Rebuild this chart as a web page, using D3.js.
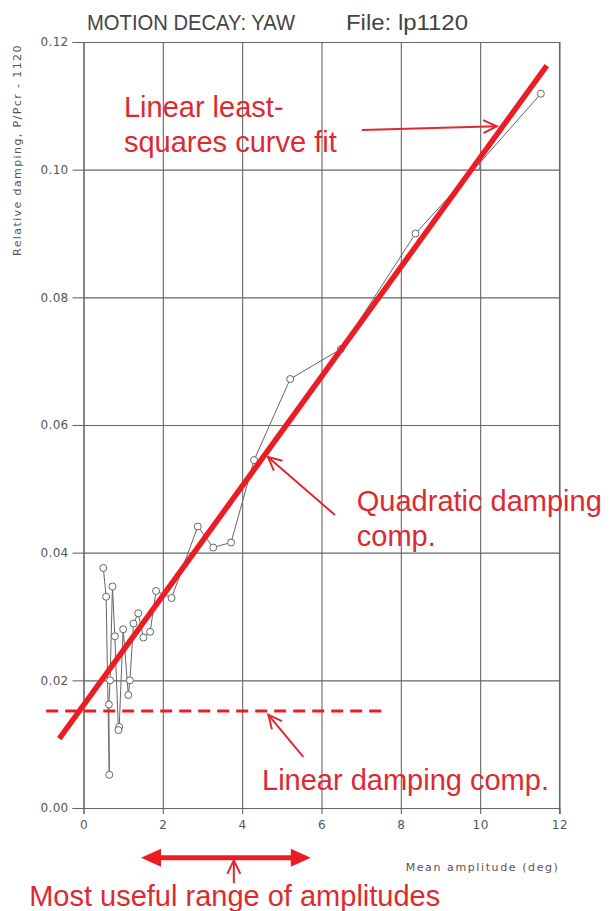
<!DOCTYPE html>
<html>
<head>
<meta charset="utf-8">
<script src="https://cdn.jsdelivr.net/npm/d3@7"></script>
<style>
  body { margin: 0; background: #fff; }
  svg { display: block; }
  .tick text { fill: #555; }
</style>
</head>
<body>
<svg id="chart"></svg>
<script>
// mean amplitude (deg) and relative damping for each swing, in decay order
const amplitude = [11.53, 9.91, 8.37, 6.49, 5.21, 4.30, 3.72, 3.27, 2.88, 2.22, 1.83, 1.68, 1.51, 1.38,
  1.26, 1.17, 1.13, 1.00, 0.90, 0.88, 0.79, 0.73, 0.67, 0.64, 0.65, 0.57, 0.50];
const damping = [0.1119, 0.1005, 0.0900, 0.0719, 0.0672, 0.0545, 0.0416, 0.0408, 0.0441, 0.0329, 0.0340,
  0.0276, 0.0267, 0.0305, 0.0289, 0.0200, 0.0177, 0.0280, 0.0127, 0.0122, 0.0269, 0.0347, 0.0200,
  0.0162, 0.0052, 0.0331, 0.0376];

const xTicks = [0, 2, 4, 6, 8, 10, 12];
const yTicks = [0, 0.02, 0.04, 0.06, 0.08, 0.10, 0.12];

// least squares fit  P/Pcr = a + b * amplitude
const fitIntercept = 0.0161;
const fitSlope = 0.00858;
const fitRange = [-0.61, 11.68];
// linear damping component
const linearComp = 0.0152;
const linearCompRange = [-0.94, 7.63];
// most useful amplitude range
const usefulRange = [1.45, 5.73];

const width = 610, height = 911;
const svg = d3.select('#chart').attr('width', width).attr('height', height);

const xScale = d3.scaleLinear().domain([0, 12]).range([83.5, 559.5]);
const yScale = d3.scaleLinear().domain([0, 0.12]).range([808, 42]);

const gray = '#666';
const red = '#ec1c24';
const textRed = '#dd2a30';

// grid
svg.append('g')
  .attr('transform', `translate(0,${yScale(0)})`)
  .call(d3.axisBottom(xScale).tickValues(xTicks).tickSize(-(yScale(0) - yScale(0.12))).tickFormat(''))
  .call(g => g.select('.domain').remove())
  .call(g => g.selectAll('line').attr('stroke', gray).attr('stroke-width', 1.1));

svg.append('g')
  .attr('transform', `translate(${xScale(0)},0)`)
  .call(d3.axisLeft(yScale).tickValues(yTicks).tickSize(-(xScale(12) - xScale(0))).tickFormat(''))
  .call(g => g.select('.domain').remove())
  .call(g => g.selectAll('line').attr('stroke', gray).attr('stroke-width', 1.1));

// axes with labels
svg.append('g')
  .attr('transform', `translate(0,${yScale(0)})`)
  .call(d3.axisBottom(xScale).tickValues(xTicks).tickSize(6).tickPadding(6).tickFormat(d3.format('d')))
  .call(g => g.select('.domain').attr('stroke', gray))
  .call(g => g.selectAll('line').attr('stroke', gray).attr('stroke-width', 1.1))
  .call(g => g.selectAll('text').attr('font-family', 'DejaVu Sans').attr('font-size', 12)
    .attr('letter-spacing', 0.5));

svg.append('g')
  .attr('transform', `translate(${xScale(0)},0)`)
  .call(d3.axisLeft(yScale).tickValues(yTicks).tickSize(11).tickPadding(4).tickFormat(d3.format('.2f')))
  .call(g => g.select('.domain').attr('stroke', gray).attr('stroke-width', 1.1))
  .call(g => g.selectAll('line').attr('stroke', gray).attr('stroke-width', 1.1))
  .call(g => g.selectAll('text').attr('font-family', 'DejaVu Sans').attr('font-size', 12)
    .attr('letter-spacing', 0.3));

// right frame
svg.append('line')
  .attr('x1', xScale(12)).attr('x2', xScale(12))
  .attr('y1', yScale(0.12)).attr('y2', yScale(0) + 6)
  .attr('stroke', gray).attr('stroke-width', 1.1);

// titles, squeezed like the plotter font
svg.append('text')
  .attr('x', 87).attr('y', 30)
  .attr('font-family', 'Liberation Sans, Arial, sans-serif')
  .attr('font-size', 22).attr('fill', '#444')
  .attr('textLength', 208).attr('lengthAdjust', 'spacingAndGlyphs')
  .text('MOTION  DECAY:  YAW');
svg.append('text')
  .attr('x', 346).attr('y', 30)
  .attr('font-family', 'Liberation Sans, Arial, sans-serif')
  .attr('font-size', 22).attr('fill', '#444')
  .attr('textLength', 122).attr('lengthAdjust', 'spacingAndGlyphs')
  .text('File:  lp1120');

svg.append('text')
  .attr('transform', `translate(21,150) rotate(-90)`)
  .attr('text-anchor', 'middle')
  .attr('font-family', 'DejaVu Sans').attr('font-size', 11)
  .attr('letter-spacing', 1.4).attr('fill', '#555')
  .text('Relative damping, P/Pcr - 1120');

svg.append('text')
  .attr('x', xScale(12)).attr('y', 871)
  .attr('text-anchor', 'end')
  .attr('font-family', 'DejaVu Sans').attr('font-size', 11)
  .attr('letter-spacing', 1.6).attr('fill', '#555')
  .text('Mean amplitude (deg)');

// measured points
let points = amplitude.map((a, i) => [a, damping[i]]);

svg.append('path')
  .datum(points)
  .attr('fill', 'none')
  .attr('stroke', gray)
  .attr('stroke-width', 1)
  .attr('d', d3.line().x(d => xScale(d[0])).y(d => yScale(d[1])));

svg.append('g').selectAll('circle')
  .data(points)
  .join('circle')
  .attr('cx', d => xScale(d[0]))
  .attr('cy', d => yScale(d[1]))
  .attr('r', 3.5)
  .attr('fill', '#fff')
  .attr('stroke', gray)
  .attr('stroke-width', 1);

// fit line
svg.append('path')
  .datum(fitRange.map(a => [a, fitIntercept + fitSlope * a]))
  .attr('fill', 'none')
  .attr('stroke', red)
  .attr('stroke-width', 5.5)
  .attr('d', d3.line().x(d => xScale(d[0])).y(d => yScale(d[1])));

// linear component
svg.append('line')
  .attr('x1', xScale(linearCompRange[0])).attr('x2', xScale(linearCompRange[1]))
  .attr('y1', yScale(linearComp)).attr('y2', yScale(linearComp))
  .attr('stroke', red).attr('stroke-width', 3)
  .attr('stroke-dasharray', '12,7');

// annotation arrows (open heads), given in data units
const arrows = [
  { from: [7.02, 0.1062], to: [10.42, 0.1068] },
  { from: [6.34, 0.0459], to: [4.65, 0.0550] },
  { from: [5.54, 0.0080], to: [4.66, 0.0146] },
  { from: [3.79, -0.0118], to: [3.79, -0.0082] }
];

arrows.forEach(a => {
  let x1 = xScale(a.from[0]), y1 = yScale(a.from[1]);
  let x2 = xScale(a.to[0]), y2 = yScale(a.to[1]);
  let ang = Math.atan2(y2 - y1, x2 - x1);
  let len = 15, spread = 0.45;
  let head = [
    [x2 - len * Math.cos(ang - spread), y2 - len * Math.sin(ang - spread)],
    [x2, y2],
    [x2 - len * Math.cos(ang + spread), y2 - len * Math.sin(ang + spread)]
  ];
  svg.append('line')
    .attr('x1', x1).attr('y1', y1).attr('x2', x2).attr('y2', y2)
    .attr('stroke', textRed).attr('stroke-width', 2);
  svg.append('path')
    .attr('d', d3.line()(head))
    .attr('fill', 'none').attr('stroke', textRed).attr('stroke-width', 2);
});

// double headed arrow for useful range
let ry = yScale(-0.0078);
let rx1 = xScale(usefulRange[0]), rx2 = xScale(usefulRange[1]);
svg.append('line')
  .attr('x1', rx1 + 15).attr('x2', rx2 - 15)
  .attr('y1', ry).attr('y2', ry)
  .attr('stroke', red).attr('stroke-width', 5);
svg.append('path')
  .attr('d', d3.line()([[rx1, ry], [rx1 + 20, ry - 9], [rx1 + 20, ry + 9]]) + 'Z')
  .attr('fill', red);
svg.append('path')
  .attr('d', d3.line()([[rx2, ry], [rx2 - 20, ry - 9], [rx2 - 20, ry + 9]]) + 'Z')
  .attr('fill', red);

// annotation texts
const notes = [
  { text: 'Linear least-', at: [1.02, 0.1083] },
  { text: 'squares curve fit', at: [1.02, 0.1028] },
  { text: 'Quadratic damping', at: [6.89, 0.0465] },
  { text: 'comp.', at: [6.89, 0.0410] },
  { text: 'Linear damping comp.', at: [4.50, 0.0028] },
  { text: 'Most useful range of amplitudes', at: [-1.37, -0.01535] }
];

svg.append('g').selectAll('text')
  .data(notes)
  .join('text')
  .attr('x', d => xScale(d.at[0]))
  .attr('y', d => yScale(d.at[1]))
  .attr('font-family', 'Liberation Sans, Arial, sans-serif')
  .attr('font-size', 29)
  .attr('fill', textRed)
  .text(d => d.text);
</script>
</body>
</html>
